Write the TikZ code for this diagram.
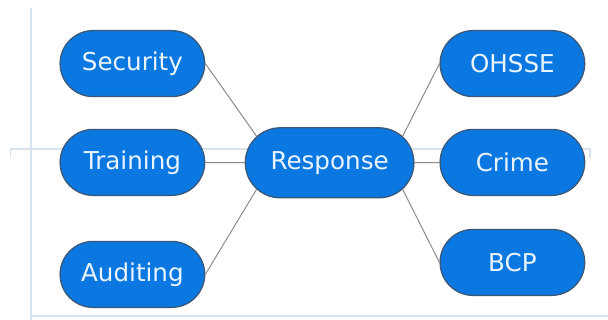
\documentclass[tikz,border=0pt]{standalone}
\usepackage{fontspec}
\setmainfont{DejaVu Sans}
\usepackage{xcolor}
\usepackage{tikz}
\usetikzlibrary{shapes.misc,positioning}
\definecolor{nodeblue}{HTML}{0A78E0}
\definecolor{nodeedge}{HTML}{3C5878}
\definecolor{nodetext}{HTML}{EAF4FF}
\definecolor{linkgray}{HTML}{8A8A8A}
\definecolor{guide}{HTML}{D6E3EE}

\begin{document}
\begin{tikzpicture}[
        topic/.style={rounded rectangle, draw=nodeedge, line width=0.9pt, fill=nodeblue, text=nodetext,
            minimum width=3.85cm, minimum height=1.65cm, font=\fontsize{17.5}{20}\selectfont},
        hub/.style={topic, minimum width=4.45cm, minimum height=1.75cm},
        link/.style={draw=linkgray, line width=0.7pt},
        guideline/.style={draw=guide, line width=0.8pt}
    ]
        \useasboundingbox[fill=white] (0,0) rectangle (15.2,8);

        % faint guides behind the map
        \draw[guideline] (0.775,7.8) -- (0.775,0);
        \draw[guideline] (0.27,4.05) -- (0.27,4.275) -- (14.75,4.275) -- (14.75,4.05);
        \draw[guideline] (0.775,0.1) -- (15.2,0.1);

        \node[topic] (sec) at (3.31,6.41) {Security};
        \node[topic] (trn) at (3.31,3.94) {Training};
        \node[topic] (aud) at (3.31,1.14) {Auditing};
        \node[hub] (resp) at (8.24,3.93) {Response};
        \node[topic] (ohs) at (12.81,6.41) {OHSSE};
        \node[topic] (crm) at (12.81,3.94) {Crime};
        \node[topic] (bcp) at (12.81,1.44) {BCP};

        \draw[link] (sec.east) -- (resp.160);
        \draw[link] (trn) -- (resp);
        \draw[link] (aud.east) -- (resp.200);
        \draw[link] (resp.20) -- (ohs.west);
        \draw[link] (resp) -- (crm);
        \draw[link] (resp.-20) -- (bcp.west);
    \end{tikzpicture}
\end{document}
